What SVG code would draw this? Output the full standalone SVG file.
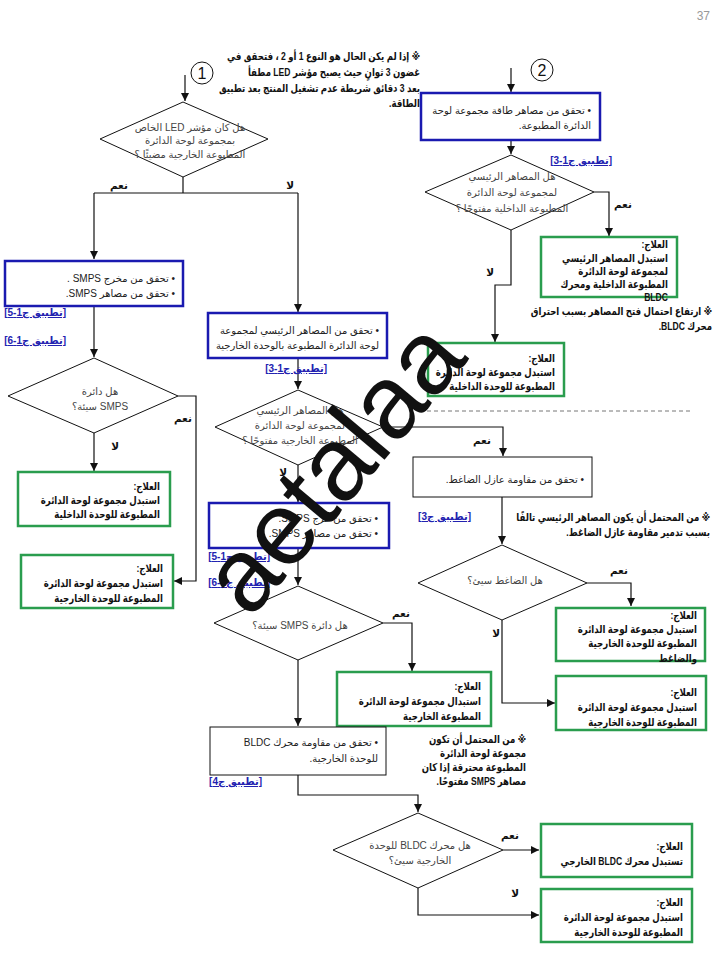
<svg xmlns="http://www.w3.org/2000/svg" width="720" height="960" viewBox="0 0 720 960">
<style>
text{font-family:"Liberation Sans","DejaVu Sans",sans-serif;font-size:10px;fill:#222;direction:rtl}
.b{font-weight:bold;font-size:11px;fill:#111;transform-box:fill-box;transform-origin:100% 50%;transform:scaleX(0.78)}
.q{fill:#444}
.m{text-anchor:middle}
.lnk{fill:#2222b0;font-weight:bold;text-decoration:underline}
.lb{font-weight:bold;fill:#111;font-size:10.5px}
.blue{fill:#fff;stroke:#1a1ab0;stroke-width:2.5}
.green{fill:#fff;stroke:#2a9d4e;stroke-width:2.5}
.plain{fill:#fff;stroke:#111;stroke-width:1}
.dia{fill:#fff;stroke:#111;stroke-width:1}
.c{fill:none;stroke:#111;stroke-width:1.2}
.a{marker-end:url(#ah)}
</style>
<defs>
<marker id="ah" markerUnits="userSpaceOnUse" markerWidth="9" markerHeight="9" refX="8" refY="4" orient="auto">
<path d="M0,0 L8,4 L0,8 z" fill="#111"/>
</marker>
</defs>
<rect width="720" height="960" fill="#fff"/>
<text x="710" y="20" style="direction:ltr;text-anchor:end;font-size:12px;fill:#999">37</text>

<g id="note-top">
<text class="b" x="420" y="60">※ إذا لم يكن الحال هو النوع 1 أو 2 ، فتحقق في</text>
<text class="b" x="420" y="76">غضون 3 ثوانٍ حيث يصبح مؤشر LED مطفأ</text>
<text class="b" x="420" y="92">بعد 3 دقائق شريطة عدم تشغيل المنتج بعد تطبيق</text>
<text class="b" x="420" y="107">الطاقة.</text>
</g>

<g id="connectors">
<path class="c a" d="M185,75 V101"/>
<path class="c" d="M183,177 V193 M94,193 H298"/>
<path class="c a" d="M94,193 V259"/>
<path class="c a" d="M298,193 V312"/>
<path class="c a" d="M94,306 V357"/>
<path class="c a" d="M94,433 V471"/>
<path class="c a" d="M178,396 H196 V581 H174"/>
<path class="c a" d="M298,358 V389"/>
<path class="c a" d="M298,465 V502"/>
<path class="c a" d="M298,548 V585"/>
<path class="c a" d="M383,623 H412 V671"/>
<path class="c a" d="M298,660 V726"/>
<path class="c a" d="M298,775 V795 H418 V812"/>
<path class="c a" d="M503,850 H539"/>
<path class="c a" d="M418,888 V915 H539"/>
<path class="c a" d="M511,68 V92"/>
<path class="c a" d="M511,140 V154"/>
<path class="c a" d="M594,192 H609 V236"/>
<path class="c a" d="M511,230 V285 H495 V342"/>
<path class="c a" d="M383,427 H503 V456"/>
<path class="c a" d="M502,497 V544"/>
<path class="c a" d="M587,583 H631 V606"/>
<path class="c a" d="M502,620 V703 H555"/>
<path d="M420,411 H690" fill="none" stroke="#777" stroke-width="1" stroke-dasharray="4,3"/>
<text class="lb" x="128" y="189">نعم</text>
<text class="lb" x="294" y="189">لا</text>
<text class="lb" x="192" y="422">نعم</text>
<text class="lb" x="119" y="450">لا</text>
<text class="lb" x="287" y="476">لا</text>
<text class="lb" x="410" y="617">نعم</text>
<text class="lb" x="519" y="839">نعم</text>
<text class="lb" x="519" y="897">لا</text>
<text class="lb" x="632" y="208">نعم</text>
<text class="lb" x="494" y="276">لا</text>
<text class="lb" x="491" y="444">نعم</text>
<text class="lb" x="628" y="574">نعم</text>
<text class="lb" x="500" y="637">لا</text>
</g>

<g id="start1">
<circle cx="202" cy="73" r="11" fill="none" stroke="#111" stroke-width="1"/>
<text x="202" y="79" class="m" style="direction:ltr;font-size:16px;fill:#111">1</text>
</g>
<g id="start2">
<circle cx="542" cy="70" r="11" fill="none" stroke="#111" stroke-width="1"/>
<text x="542" y="76" class="m" style="direction:ltr;font-size:16px;fill:#111">2</text>
</g>

<g id="d1">
<polygon class="dia" points="183,102 268,139 183,177 100,139"/>
<text class="q m" x="190" y="131">هل كان مؤشر LED الخاص</text>
<text class="q m" x="190" y="144">بمجموعة لوحة الدائرة</text>
<text class="q m" x="190" y="158">المطبوعة الخارجية مضيئًا ؟</text>
</g>

<g id="box-smps-left">
<rect class="blue" x="5" y="261" width="178" height="45"/>
<text x="175" y="282">• تحقق من مخرج SMPS .</text>
<text x="175" y="297">• تحقق من مصاهر SMPS.</text>
<text class="lnk" x="66" y="316">[تطبيق ج1-5]</text>
<text class="lnk" x="66" y="344">[تطبيق ج1-6]</text>
</g>

<g id="d2">
<polygon class="dia" points="94,358 178,396 94,433 8,396"/>
<text class="q m" x="100" y="395">هل دائرة</text>
<text class="q m" x="100" y="410">SMPS سيئة؟</text>
</g>

<g id="r1">
<rect class="green" x="18" y="472" width="152" height="54"/>
<text class="b" x="160" y="490">العلاج:</text>
<text class="b" x="160" y="504">استبدل مجموعة لوحة الدائرة</text>
<text class="b" x="160" y="518">المطبوعة للوحدة الداخلية</text>
</g>

<g id="r2">
<rect class="green" x="21" y="555" width="152" height="53"/>
<text class="b" x="163" y="572">العلاج:</text>
<text class="b" x="163" y="587">استبدل مجموعة لوحة الدائرة</text>
<text class="b" x="163" y="602">المطبوعة للوحدة الخارجية</text>
</g>

<g id="box-fuse-out">
<rect class="blue" x="208" y="313" width="179" height="45"/>
<text x="379" y="334">• تحقق من المصاهر الرئيسي لمجموعة</text>
<text x="379" y="349">لوحة الدائرة المطبوعة بالوحدة الخارجية</text>
<text class="lnk" x="327" y="372">[تطبيق ج1-3]</text>
</g>

<g id="d3">
<polygon class="dia" points="298,390 383,427 298,465 215,427"/>
<text class="q m" x="300" y="414">هل المصاهر الرئيسي</text>
<text class="q m" x="300" y="429">لمجموعة لوحة الدائرة</text>
<text class="q m" x="300" y="444">المطبوعة الخارجية مفتوحًا ؟</text>
</g>

<g id="box-smps-mid">
<rect class="blue" x="209" y="503" width="180" height="45"/>
<text x="378" y="522">• تحقق من خرج SMPS.</text>
<text x="378" y="537">• تحقق من مصاهر SMPS.</text>
<text class="lnk" x="270" y="560">[تطبيق ج1-5]</text>
<text class="lnk" x="270" y="586">[تطبيق ج1-6]</text>
</g>

<g id="d4">
<polygon class="dia" points="298,586 383,623 298,660 214,623"/>
<text class="q m" x="300" y="629">هل دائرة SMPS سيئة؟</text>
</g>

<g id="r3">
<rect class="green" x="337" y="672" width="154" height="54"/>
<text class="b" x="481" y="690">العلاج:</text>
<text class="b" x="481" y="705">استبدال مجموعة لوحة الدائرة</text>
<text class="b" x="481" y="720">المطبوعة الخارجية</text>
</g>

<g id="note-smps">
<text class="b" x="526" y="743">※ من المحتمل أن تكون</text>
<text class="b" x="526" y="757">مجموعة لوحة الدائرة</text>
<text class="b" x="526" y="771">المطبوعة محترقة إذا كان</text>
<text class="b" x="526" y="785">مصاهر SMPS مفتوحًا.</text>
</g>

<g id="box-bldc">
<rect class="plain" x="210" y="727" width="176" height="48"/>
<text x="378" y="746">• تحقق من مقاومة محرك BLDC</text>
<text x="378" y="762">للوحدة الخارجية.</text>
<text class="lnk" x="262" y="785">[تطبيق ج4]</text>
</g>

<g id="d5">
<polygon class="dia" points="418,813 503,850 418,888 333,850"/>
<text class="q m" x="420" y="849">هل محرك BLDC للوحدة</text>
<text class="q m" x="420" y="864">الخارجية سيئ؟</text>
</g>

<g id="r6">
<rect class="green" x="541" y="824" width="151" height="53"/>
<text class="b" x="683" y="850">العلاج:</text>
<text class="b" x="683" y="865">تستبدل محرك BLDC  الخارجي</text>
</g>

<g id="r7">
<rect class="green" x="541" y="889" width="151" height="53"/>
<text class="b" x="683" y="906">العلاج:</text>
<text class="b" x="683" y="921">استبدل مجموعة لوحة الدائرة</text>
<text class="b" x="683" y="936">المطبوعة للوحدة الخارجية</text>
</g>

<g id="box-power-fuse">
<rect class="blue" x="421" y="93" width="179" height="47"/>
<text x="591" y="114">• تحقق من مصاهر طاقة مجموعة لوحة</text>
<text x="591" y="129">الدائرة المطبوعة.</text>
<text class="lnk" x="612" y="164">[تطبيق ج1-3]</text>
</g>

<g id="d6">
<polygon class="dia" points="511,155 594,192 511,230 425,192"/>
<text class="q m" x="512" y="180">هل المصاهر الرئيسي</text>
<text class="q m" x="512" y="196">لمجموعة لوحة الدائرة</text>
<text class="q m" x="512" y="212">المطبوعة الداخلية مفتوحًا ؟</text>
</g>

<g id="r4">
<rect class="green" x="541" y="237" width="136" height="60"/>
<text class="b" x="668" y="248">العلاج:</text>
<text class="b" x="668" y="262">استبدل المصاهر الرئيسي</text>
<text class="b" x="668" y="275">لمجموعة لوحة الدائرة</text>
<text class="b" x="668" y="288">المطبوعة الداخلية ومحرك</text>
<text class="b" x="668" y="301">BLDC</text>
</g>

<g id="note-bldc">
<text class="b" x="712" y="315">※ ارتفاع احتمال فتح المصاهر بسبب احتراق</text>
<text class="b" x="712" y="330">محرك BLDC.</text>
</g>

<g id="r5">
<rect class="green" x="428" y="343" width="136" height="53"/>
<text class="b" x="555" y="362">العلاج:</text>
<text class="b" x="555" y="376">استبدل مجموعة لوحة الدائرة</text>
<text class="b" x="555" y="390">المطبوعة للوحدة الداخلية</text>
</g>

<g id="box-comp">
<rect class="plain" x="413" y="457" width="179" height="40"/>
<text x="584" y="483">• تحقق من مقاومة عازل الضاغط.</text>
<text class="lnk" x="471" y="520">[تطبيق ج3]</text>
</g>

<g id="note-comp">
<text class="b" x="710" y="521">※ من المحتمل أن يكون المصاهر الرئيسي تالفًا</text>
<text class="b" x="710" y="536">بسبب تدمير مقاومة عازل الضاغط.</text>
</g>

<g id="d7">
<polygon class="dia" points="502,545 587,583 502,620 418,583"/>
<text class="q m" x="505" y="584">هل الضاغط سيئ؟</text>
</g>

<g id="r8">
<rect class="green" x="556" y="608" width="149" height="53"/>
<text class="b" x="697" y="619">العلاج:</text>
<text class="b" x="697" y="633">استبدل مجموعة لوحة الدائرة</text>
<text class="b" x="697" y="647">المطبوعة للوحدة الخارجية</text>
<text class="b" x="697" y="662">والضاغط</text>
</g>

<g id="r9">
<rect class="green" x="556" y="676" width="150" height="54"/>
<text class="b" x="697" y="696">العلاج:</text>
<text class="b" x="697" y="711">استبدل مجموعة لوحة الدائرة</text>
<text class="b" x="697" y="726">المطبوعة للوحدة الخارجية</text>
</g>

<text transform="translate(250,620) rotate(-50)" style="direction:ltr;font-size:104px;fill:#111">aetalaa</text>
</svg>
